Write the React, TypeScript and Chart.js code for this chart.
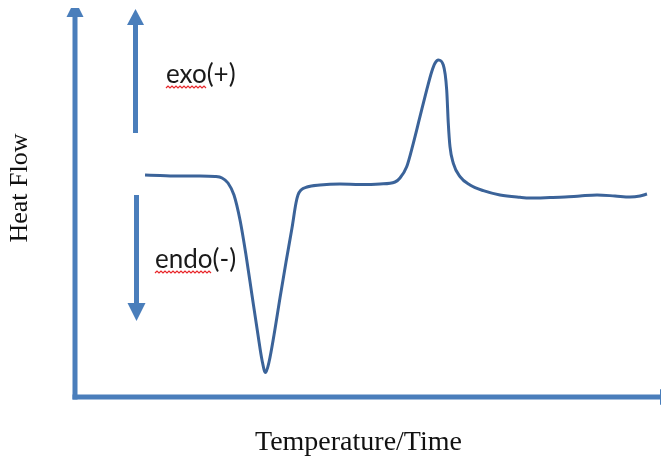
import React, { useEffect, useRef } from "react";
import { Chart, registerables } from "chart.js";

Chart.register(...registerables);

// DSC thermogram: temperature/time (x) against heat flow (y), arbitrary units 0–100
const temperature = [
  11.95, 14.51, 17.92, 21.33, 23.89, 25.09, 26.11, 27.13, 28.16, 29.18, 30.2, 31.23, 31.91,
  32.51, 33.11, 33.96, 34.98, 36.01, 37.03, 37.71, 38.05, 38.57, 39.59, 41.81, 45.22, 48.63,
  52.05, 54.61, 55.46, 56.6, 57.73, 58.87, 60.02, 60.87, 61.43, 61.99, 62.85, 63.43, 63.7,
  63.99, 64.56, 65.7, 67.41, 69.68, 72.53, 75.94, 77.65, 81.06, 83.62, 86.18, 89.08, 92.15,
  94.71, 96.42, 97.61,
];
const heatFlow = [
  56.63, 56.51, 56.38, 56.38, 56.25, 55.87, 54.59, 51.53, 45.15, 36.22, 26.02, 15.82, 9.44,
  6.25, 8.93, 15.82, 25.26, 34.44, 43.11, 49.49, 51.53, 52.81, 53.57, 54.08, 54.34, 54.21,
  54.34, 54.85, 55.87, 58.75, 64.72, 71.51, 78.32, 82.98, 85.13, 85.97, 84.69, 78.32, 69.9,
  63.85, 59.62, 56.2, 54.08, 52.63, 51.53, 50.94, 50.77, 50.89, 51.02, 51.28, 51.53, 51.28,
  51.02, 51.28, 51.79,
];

const xTitle = "Temperature/Time";
const yTitle = "Heat Flow";
const exoLabel = ["exo", "(+)"];
const endoLabel = ["endo", "(-)"];

const AXIS_BLUE = "#4a7ebb";
const CURVE_BLUE = "#3b6399";

function arrowHead(ctx: CanvasRenderingContext2D, x: number, tipY: number, baseY: number, half: number) {
  ctx.beginPath();
  ctx.moveTo(x, tipY);
  ctx.lineTo(x - half, baseY);
  ctx.lineTo(x + half, baseY);
  ctx.closePath();
  ctx.fill();
}

// spell-check style wavy underline
function squiggle(ctx: CanvasRenderingContext2D, x0: number, x1: number, y: number) {
  ctx.save();
  ctx.strokeStyle = "#e8262a";
  ctx.lineWidth = 1.2;
  ctx.beginPath();
  let up = true;
  ctx.moveTo(x0, y);
  for (let x = x0 + 2; x <= x1; x += 2) {
    ctx.lineTo(x, up ? y - 2 : y);
    up = !up;
  }
  ctx.stroke();
  ctx.restore();
}

const decorations = {
  id: "dscDecorations",
  afterDraw(chart: Chart) {
    const { ctx, chartArea } = chart;
    const left = chartArea.left;
    const bottom = chartArea.bottom;
    ctx.save();
    ctx.fillStyle = AXIS_BLUE;
    ctx.strokeStyle = AXIS_BLUE;
    ctx.lineWidth = 5;
    ctx.lineCap = "butt";

    // y axis with arrow (tip runs past the top edge)
    ctx.beginPath();
    ctx.moveTo(left, bottom + 2.5);
    ctx.lineTo(left, 16);
    ctx.stroke();
    ctx.save();
    ctx.beginPath();
    ctx.rect(0, 8, chart.width, chart.height);
    ctx.clip();
    arrowHead(ctx, left, 0, 17, 8.5);
    ctx.restore();

    // x axis with arrow off the right edge
    ctx.beginPath();
    ctx.moveTo(left - 2.5, bottom);
    ctx.lineTo(chart.width + 20, bottom);
    ctx.stroke();
    ctx.beginPath();
    ctx.moveTo(660, bottom - 8);
    ctx.lineTo(676, bottom);
    ctx.lineTo(660, bottom + 8);
    ctx.closePath();
    ctx.fill();

    // exo (up) arrow
    ctx.beginPath();
    ctx.moveTo(135.5, 133);
    ctx.lineTo(135.5, 22);
    ctx.stroke();
    arrowHead(ctx, 135.5, 9, 25, 8.5);

    // endo (down) arrow
    ctx.beginPath();
    ctx.moveTo(136.5, 195);
    ctx.lineTo(136.5, 306);
    ctx.stroke();
    arrowHead(ctx, 136.5, 321, 303, 9);

    // exo / endo labels
    ctx.fillStyle = "#1a1a1a";
    ctx.font = "26px Lato";
    ctx.textBaseline = "alphabetic";
    ctx.textAlign = "left";
    let w = ctx.measureText(exoLabel[0]).width;
    ctx.fillText(exoLabel[0], 166, 83);
    ctx.fillText(exoLabel[1], 166 + w, 83);
    squiggle(ctx, 166, 166 + w, 88);
    w = ctx.measureText(endoLabel[0]).width;
    ctx.fillText(endoLabel[0], 155, 268);
    ctx.fillText(endoLabel[1], 155 + w, 268);
    squiggle(ctx, 155, 155 + w, 273);

    // axis titles
    ctx.fillStyle = "#111";
    ctx.font = "28px 'Liberation Serif'";
    ctx.fillText(xTitle, 255, 450);
    ctx.save();
    ctx.translate(27, 188);
    ctx.rotate(-Math.PI / 2);
    ctx.font = "26px 'Liberation Serif'";
    ctx.textAlign = "center";
    ctx.fillText(yTitle, 0, 0);
    ctx.restore();

    ctx.restore();
  },
};

export default function App() {
  const canvasRef = useRef<HTMLCanvasElement | null>(null);

  useEffect(() => {
    if (!canvasRef.current) return;
    const chart = new Chart(canvasRef.current, {
      type: "line",
      data: {
        datasets: [
          {
            data: temperature.map((t, i) => ({ x: t, y: heatFlow[i] })),
            borderColor: CURVE_BLUE,
            borderWidth: 3,
            pointRadius: 0,
            cubicInterpolationMode: "monotone",
            fill: false,
          },
        ],
      },
      options: {
        responsive: false,
        animation: false,
        layout: { padding: { left: 75, right: 0, top: 5, bottom: 59 } },
        scales: {
          x: { type: "linear", min: 0, max: 100, display: false },
          y: { type: "linear", min: 0, max: 100, display: false },
        },
        plugins: { legend: { display: false }, tooltip: { enabled: false } },
      },
      plugins: [decorations],
    });
    return () => chart.destroy();
  }, []);

  return (
    <div style={{ position: "fixed", left: 0, top: 0, width: 661, height: 456, background: "#fff" }}>
      <canvas ref={canvasRef} width={661} height={456} style={{ display: "block" }} />
    </div>
  );
}
